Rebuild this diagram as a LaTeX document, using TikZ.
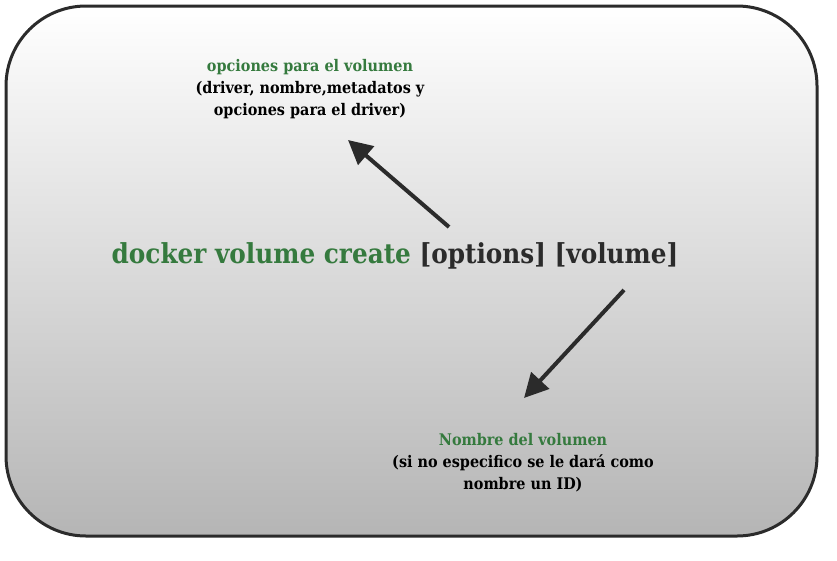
\documentclass[tikz,border=0pt]{standalone}
\usepackage{fontspec}
\setmainfont[FakeStretch=0.9]{DejaVu Serif}
\usetikzlibrary{arrows.meta}
\definecolor{dgreen}{HTML}{357A3E}
\definecolor{dgray}{HTML}{2B2B2B}
\tikzset{
  frame/.style={draw=dgray, line width=3pt, rounded corners=80pt, top color=white, bottom color=black!29},
  arrowline/.style={draw=dgray, line width=4pt, -{Triangle[length=24pt,width=24pt]}},
  lbl/.style={align=center, font=\bfseries\fontsize{16}{22}\selectfont, text=black, inner sep=0pt},
  title/.style={font=\bfseries\fontsize{27.5}{32}\selectfont, inner sep=0pt}
}
\begin{document}
\begin{tikzpicture}[x=1pt,y=-1pt]
\useasboundingbox (0,0) rectangle (837,560);
\path[frame] (6,6) rectangle (817,536);
\node[title] (cmd) at (395,256) {\textcolor{dgreen}{docker volume create} \textcolor{dgray}{[options] [volume]}};
\node[lbl] (opt) at (310,89) {\textcolor{dgreen}{opciones para el volumen}\\(driver, nombre,metadatos y\\opciones para el driver)};
\node[lbl] (vol) at (523,463) {\textcolor{dgreen}{Nombre del volumen}\\(si no especifico se le dará como\\nombre un ID)};
\coordinate (a1s) at (449,227);
\coordinate (a1e) at (348,140);
\coordinate (a2s) at (624,290);
\coordinate (a2e) at (524,398);
\draw[arrowline] (a1s) -- (a1e);
\draw[arrowline] (a2s) -- (a2e);
\end{tikzpicture}
\end{document}
